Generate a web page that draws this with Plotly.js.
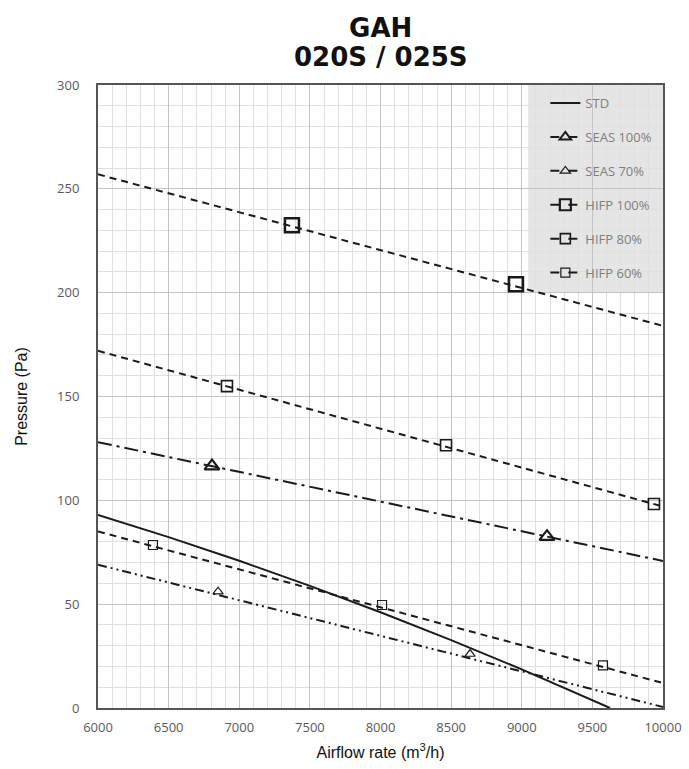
<!DOCTYPE html>
<html><head><meta charset="utf-8">
<script src="https://cdn.plot.ly/plotly-3.0.1.min.js"></script>
<style>body{margin:0;padding:0;background:#fff}#chart{width:689px;height:769px}</style>
</head><body><div id="chart"></div>
<script>
// Data
const stdX = [6000, 6500, 7000, 7500, 8000, 8500, 9000, 9500, 9625];
const stdY = [93, 82.3, 70.9, 58.8, 46.1, 32.7, 18.6, 3.9, 0];

const seas100LineX = [6000, 10000];
const seas100LineY = [128, 70.8];
const seas100MarkX = [6807, 9179];
const seas100MarkY = [116.5, 82.5];

const seas70LineX = [6000, 10000];
const seas70LineY = [69, 0.5];
const seas70MarkX = [6850, 8634];
const seas70MarkY = [56, 26];

const hifp100LineX = [6000, 10000];
const hifp100LineY = [257, 184];
const hifp100MarkX = [7373, 8959];
const hifp100MarkY = [232.5, 204];

const hifp80LineX = [6000, 10000];
const hifp80LineY = [172, 97];
const hifp80MarkX = [6913, 8464, 9936];
const hifp80MarkY = [155, 126.5, 98.2];

const hifp60LineX = [6000, 10000];
const hifp60LineY = [85, 12];
const hifp60MarkX = [6389, 8011, 9575];
const hifp60MarkY = [78.5, 49.6, 20.5];

const names = ['STD', 'SEAS 100%', 'SEAS 70%', 'HIFP 100%', 'HIFP 80%', 'HIFP 60%'];
const titleLine1 = 'GAH';
const titleLine2 = '020S / 025S';

const ink = '#1a1a1a';
function lineTrace(x, y, dash, name) {
  return {x: x, y: y, mode: 'lines', type: 'scatter', name: name, legendgroup: name,
    line: {color: ink, width: 2, dash: dash}, showlegend: false, hoverinfo: 'skip'};
}
function markTrace(x, y, name, sym, size, mw) {
  return {x: x, y: y, mode: 'markers', type: 'scatter', name: name, legendgroup: name, showlegend: false,
    marker: {symbol: sym, size: size, color: ink, line: {color: ink, width: mw}}};
}
function legTrace(dash, name, sym, size, mw) {
  const t = {x: [null], y: [null], type: 'scatter', name: name, legendgroup: name, showlegend: true,
    mode: sym ? 'lines+markers' : 'lines', line: {color: ink, width: 2, dash: dash}};
  if (sym) t.marker = {symbol: sym, size: size, color: ink, line: {color: ink, width: mw}};
  return t;
}
const dashHifp = '7px,5px';
const dashS100 = '14px,5px,3px,5px';
const dashS70 = '9px,4px,2px,4px,2px,4px';

const traces = [
  {x: stdX, y: stdY, mode: 'lines', type: 'scatter', name: names[0], legendgroup: names[0], showlegend: false,
    line: {color: ink, width: 2}},
  lineTrace(seas100LineX, seas100LineY, dashS100, names[1]),
  markTrace(seas100MarkX, seas100MarkY, names[1], 'triangle-up-open', 13, 2.2),
  lineTrace(seas70LineX, seas70LineY, dashS70, names[2]),
  markTrace(seas70MarkX, seas70MarkY, names[2], 'triangle-up-open', 9, 1.2),
  lineTrace(hifp100LineX, hifp100LineY, dashHifp, names[3]),
  markTrace(hifp100MarkX, hifp100MarkY, names[3], 'square-open', 14, 2.5),
  lineTrace(hifp80LineX, hifp80LineY, dashHifp, names[4]),
  markTrace(hifp80MarkX, hifp80MarkY, names[4], 'square-open', 11, 1.6),
  lineTrace(hifp60LineX, hifp60LineY, dashHifp, names[5]),
  markTrace(hifp60MarkX, hifp60MarkY, names[5], 'square-open', 9, 1.2),
  legTrace('solid', names[0], null),
  legTrace('dash', names[1], 'triangle-up-open', 10, 2),
  legTrace('dash', names[2], 'triangle-up-open', 9, 1.2),
  legTrace('dash', names[3], 'square-open', 11, 2.2),
  legTrace('dash', names[4], 'square-open', 10, 1.6),
  legTrace('dash', names[5], 'square-open', 9, 1.2)
];

const titleFont = {family: 'DejaVu Sans, Arial, sans-serif', size: 26, color: '#111'};
const layout = {
  width: 689, height: 769,
  margin: {l: 98, r: 26, t: 85, b: 61},
  paper_bgcolor: '#fff', plot_bgcolor: '#fff',
  font: {family: 'Open Sans, Arial, sans-serif', color: '#595959'},
  title: {text: '<b>' + titleLine1 + '</b>', x: 0.5526, xanchor: 'center', y: 1 - 28 / 769, yanchor: 'middle',
    font: titleFont},
  annotations: [{text: '<b>' + titleLine2 + '</b>', xref: 'paper', yref: 'paper', x: 0.5, xanchor: 'center',
    y: 1 + (85 - 57) / 623, yanchor: 'middle', showarrow: false, font: titleFont}],
  xaxis: {range: [6000, 10000], dtick: 500, tick0: 6000, tickformat: 'd', showgrid: true, gridcolor: '#c4c4c4', gridwidth: 1,
    minor: {dtick: 100, showgrid: true, gridcolor: '#e0e0e0', gridwidth: 1},
    showline: true, linecolor: '#555', linewidth: 2, mirror: true, zeroline: false, ticks: '',
    ticklabelstandoff: 6,
    tickfont: {size: 13, color: '#595959'},
    title: {text: 'Airflow rate (m<sup>3</sup>/h)', standoff: 12, font: {size: 16, color: '#111', family: 'Liberation Sans, Arial, sans-serif'}}},
  yaxis: {range: [0, 300], dtick: 50, showgrid: true, gridcolor: '#c4c4c4', gridwidth: 1,
    minor: {dtick: 10, showgrid: true, gridcolor: '#e0e0e0', gridwidth: 1},
    showline: true, linecolor: '#555', linewidth: 2, mirror: true, zeroline: false, ticks: '',
    ticklabelstandoff: 14,
    tickfont: {size: 13, color: '#595959'},
    title: {text: 'Pressure (Pa)', standoff: 25, font: {size: 16, color: '#111', family: 'Liberation Sans, Arial, sans-serif'}}},
  shapes: [{type: 'rect', xref: 'x', yref: 'y', x0: 9045, x1: 10000, y0: 200, y1: 300, layer: 'below',
    fillcolor: 'rgba(0,0,0,0.1)', line: {width: 0}}],
  legend: {x: 0.99, xanchor: 'right', y: 0.995, yanchor: 'top', bgcolor: 'rgba(0,0,0,0)',
    traceorder: 'grouped', tracegroupgap: 14, itemwidth: 30,
    font: {size: 13, color: '#7f7f7f', family: 'Open Sans, sans-serif'}},
  showlegend: true
};
Plotly.newPlot('chart', traces, layout, {displayModeBar: false, staticPlot: true});
</script></body></html>
